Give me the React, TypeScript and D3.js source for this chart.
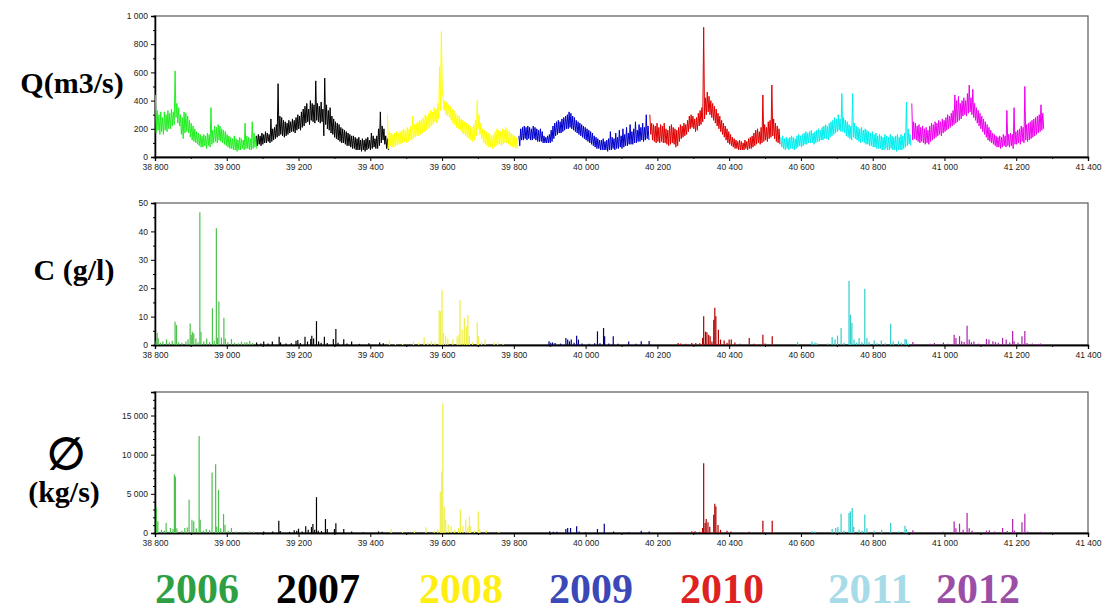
import React, { useRef, useEffect } from "react";
import * as d3 from "d3";

// years and colours
const years = ["2006", "2007", "2008", "2009", "2010", "2011", "2012"];
const qColors = ["#22ee22", "#000000", "#ffff00", "#0000cc", "#e00000", "#00eeee", "#ee00ee"];
const cColors = ["#4cc24c", "#000000", "#eeee44", "#000080", "#b00000", "#33cccc", "#aa22aa"];
const labelColors = ["#2ea043", "#000000", "#ffee11", "#3a48b8", "#dd2222", "#a8dbe8", "#9b4ea6"];

// discharge Q (m3/s): [high, low] read for each 5-day window, from each year's first day
const qStart = [38801, 39083, 39448, 39814, 40179, 40544, 40909];
const qStep = 5;
const q2006 = [[440, 170], [330, 190], [300, 160], [320, 180], [280, 160], [320, 190], [300, 180], [330, 200], [310, 200], [340, 220], [320, 230], [610, 280], [380, 240], [350, 220], [300, 160], [280, 130], [320, 170], [310, 180], [290, 170], [260, 140], [240, 120], [220, 110], [200, 100], [180, 90], [170, 80], [160, 70], [150, 70], [160, 80], [150, 60], [170, 80], [160, 70], [350, 90], [190, 100], [220, 110], [210, 100], [230, 120], [220, 110], [200, 100], [190, 90], [180, 80], [160, 70], [150, 60], [140, 60], [130, 50], [150, 50], [130, 40], [120, 50], [140, 50], [130, 60], [120, 50], [240, 60], [150, 60], [140, 50], [130, 50], [250, 60], [170, 70], [150, 60]];
const q2007 = [[150, 80], [160, 90], [150, 80], [170, 90], [160, 100], [180, 100], [170, 110], [160, 100], [270, 110], [200, 120], [210, 130], [230, 140], [520, 150], [290, 160], [280, 150], [260, 140], [250, 150], [240, 160], [260, 170], [250, 180], [270, 180], [260, 170], [280, 190], [300, 200], [290, 190], [320, 210], [340, 220], [360, 240], [380, 250], [340, 230], [400, 260], [380, 250], [370, 240], [540, 260], [380, 250], [360, 240], [390, 250], [340, 150], [560, 230], [370, 200], [330, 190], [350, 170], [290, 160], [270, 140], [250, 130], [240, 120], [230, 110], [210, 100], [200, 100], [190, 90], [180, 80], [170, 80], [160, 70], [150, 60], [150, 60], [140, 50], [130, 50], [140, 50], [120, 40], [130, 50], [120, 40], [130, 50], [140, 60], [120, 50], [170, 60], [150, 70], [130, 60], [150, 60], [200, 80], [320, 100], [220, 120], [200, 90], [150, 60], [130, 50]];
const q2008 = [[300, 60], [180, 80], [170, 70], [160, 70], [170, 80], [180, 80], [170, 90], [180, 90], [190, 100], [200, 110], [190, 100], [210, 110], [200, 120], [220, 120], [290, 130], [230, 140], [240, 150], [250, 150], [260, 160], [270, 170], [280, 180], [300, 190], [290, 200], [310, 210], [330, 220], [320, 230], [350, 250], [340, 240], [380, 270], [640, 330], [890, 480], [420, 330], [400, 300], [390, 290], [370, 280], [360, 260], [340, 240], [330, 230], [310, 210], [300, 200], [290, 190], [270, 170], [260, 160], [250, 150], [240, 140], [230, 130], [220, 120], [210, 110], [230, 120], [260, 150], [400, 200], [300, 160], [240, 130], [200, 100], [190, 90], [180, 80], [170, 70], [160, 70], [150, 60], [160, 70], [180, 80], [200, 90], [190, 90], [180, 80], [200, 90], [190, 100], [210, 100], [190, 90], [180, 80], [170, 70], [160, 70], [150, 60], [140, 60]];
const q2009 = [[150, 80], [200, 120], [210, 120], [220, 130], [210, 120], [220, 130], [210, 120], [200, 120], [220, 130], [210, 120], [200, 110], [190, 110], [200, 110], [180, 100], [150, 100], [140, 100], [150, 100], [160, 100], [190, 110], [220, 130], [240, 150], [250, 160], [260, 170], [250, 170], [270, 180], [280, 190], [290, 200], [300, 200], [320, 210], [310, 200], [290, 190], [280, 180], [260, 170], [250, 160], [240, 150], [230, 140], [220, 130], [210, 120], [200, 110], [190, 100], [180, 90], [170, 80], [150, 70], [140, 60], [130, 60], [120, 50], [120, 50], [130, 50], [110, 50], [120, 40], [130, 50], [180, 50], [140, 60], [130, 50], [170, 60], [140, 60], [190, 70], [150, 60], [200, 70], [160, 80], [210, 80], [170, 90], [230, 90], [180, 90], [200, 100], [250, 100], [190, 110], [230, 110], [210, 120], [240, 110], [210, 120], [300, 130], [220, 120]];
const q2010 = [[300, 160], [240, 120], [230, 110], [220, 100], [240, 110], [210, 100], [230, 110], [220, 100], [240, 100], [200, 90], [190, 80], [220, 90], [230, 100], [210, 90], [200, 70], [190, 80], [210, 110], [230, 130], [220, 140], [240, 150], [230, 160], [260, 180], [290, 200], [300, 210], [290, 200], [270, 180], [280, 190], [310, 220], [330, 230], [350, 250], [920, 270], [420, 300], [460, 320], [430, 300], [400, 280], [380, 260], [360, 240], [340, 220], [310, 200], [290, 180], [260, 160], [240, 140], [220, 120], [200, 100], [180, 90], [160, 80], [140, 70], [130, 60], [120, 60], [110, 50], [120, 50], [110, 50], [100, 50], [120, 60], [110, 50], [130, 60], [140, 60], [150, 70], [170, 80], [190, 90], [200, 100], [180, 90], [210, 100], [440, 110], [230, 120], [210, 110], [250, 130], [260, 140], [510, 150], [270, 130], [240, 110], [220, 100], [200, 90]];
const q2011 = [[140, 70], [150, 60], [130, 50], [140, 60], [130, 50], [140, 60], [150, 60], [140, 50], [130, 60], [150, 70], [160, 80], [150, 70], [160, 80], [170, 90], [180, 90], [170, 100], [180, 100], [190, 100], [170, 90], [180, 100], [190, 110], [200, 110], [190, 120], [210, 120], [220, 130], [230, 130], [220, 120], [240, 140], [250, 150], [260, 160], [280, 170], [270, 180], [300, 190], [270, 180], [450, 180], [280, 170], [260, 150], [250, 140], [230, 130], [220, 120], [450, 140], [240, 130], [220, 120], [210, 110], [200, 100], [210, 110], [190, 100], [200, 90], [190, 90], [180, 80], [170, 80], [180, 70], [160, 70], [170, 60], [150, 60], [160, 60], [150, 50], [140, 50], [160, 60], [150, 50], [140, 50], [160, 60], [150, 50], [140, 50], [150, 40], [160, 50], [140, 50], [160, 50], [150, 60], [170, 70], [390, 80], [200, 90], [160, 80]];
const q2012 = [[380, 120], [250, 130], [240, 120], [220, 110], [230, 100], [210, 110], [220, 100], [200, 90], [210, 100], [190, 90], [220, 110], [240, 120], [230, 130], [250, 140], [240, 150], [260, 160], [250, 150], [270, 170], [260, 180], [280, 190], [300, 200], [290, 210], [310, 220], [330, 230], [440, 240], [400, 250], [430, 260], [380, 270], [400, 290], [420, 300], [400, 290], [450, 310], [510, 320], [420, 300], [480, 280], [380, 260], [350, 240], [330, 220], [310, 200], [290, 180], [270, 160], [250, 140], [230, 120], [210, 110], [190, 100], [170, 90], [160, 80], [150, 70], [140, 70], [150, 60], [140, 70], [160, 80], [150, 70], [330, 80], [160, 70], [170, 80], [160, 60], [350, 90], [180, 90], [190, 100], [200, 90], [220, 110], [210, 100], [500, 120], [230, 110], [240, 120], [250, 130], [260, 140], [270, 150], [280, 160], [290, 170], [300, 180], [370, 190], [310, 200]];
const qSeries = [q2006, q2007, q2008, q2009, q2010, q2011, q2012];

// concentration C (g/l): [day, value] peaks
const c2006 = [[38803, 1.5], [38806, 4.3], [38809, 2.5], [38815, 0.8], [38822, 1.2], [38832, 2.0], [38840, 1.0], [38848, 1.5], [38856, 8.2], [38860, 7.0], [38866, 1.0], [38875, 0.8], [38886, 1.2], [38892, 2.0], [38898, 7.6], [38901, 3.5], [38904, 4.7], [38908, 4.1], [38914, 2.3], [38920, 1.0], [38925, 46.7], [38928, 4.7], [38936, 1.2], [38944, 2.3], [38952, 1.0], [38960, 12.9], [38965, 1.5], [38971, 41.1], [38974, 2.6], [38978, 15.3], [38985, 2.6], [38992, 9.6], [38996, 2.3], [39003, 1.0], [39013, 2.1], [39022, 0.8], [39032, 0.6], [39041, 1.2], [39050, 0.9], [39056, 1.0], [39064, 1.4], [39072, 0.7]];
const c2007 = [[39083, 0.9], [39095, 0.5], [39103, 1.2], [39115, 0.5], [39127, 1.2], [39146, 2.9], [39150, 0.9], [39165, 0.5], [39180, 0.6], [39193, 1.5], [39198, 1.8], [39205, 0.7], [39218, 2.9], [39225, 1.2], [39234, 2.1], [39237, 3.3], [39242, 2.3], [39250, 8.4], [39256, 1.2], [39263, 0.8], [39272, 2.9], [39280, 0.7], [39297, 2.1], [39304, 5.6], [39310, 0.8], [39326, 2.0], [39335, 0.5], [39348, 1.2], [39370, 0.4], [39396, 0.6], [39426, 0.9], [39436, 0.6]];
const c2008 = [[39453, 1.6], [39470, 0.5], [39490, 0.4], [39520, 1.2], [39535, 0.8], [39550, 2.7], [39560, 0.8], [39570, 1.3], [39580, 1.0], [39592, 12.2], [39596, 11.9], [39600, 19.3], [39604, 4.2], [39610, 3.1], [39616, 2.1], [39630, 1.9], [39642, 3.0], [39647, 3.6], [39650, 15.8], [39656, 5.4], [39662, 9.5], [39668, 6.6], [39672, 10.6], [39676, 3.1], [39685, 1.0], [39698, 8.0], [39702, 3.1], [39710, 1.2], [39720, 1.9], [39745, 0.9], [39755, 0.9], [39770, 0.4]];
const c2009 = [[39898, 1.3], [39903, 0.8], [39908, 0.9], [39915, 0.7], [39930, 0.5], [39945, 2.5], [39950, 1.9], [39955, 1.3], [39960, 1.9], [39968, 0.8], [39975, 3.3], [39980, 1.9], [39990, 0.5], [40010, 0.4], [40025, 0.6], [40033, 4.8], [40040, 0.6], [40050, 6.0], [40053, 3.1], [40065, 0.5], [40077, 3.1], [40090, 0.4], [40120, 1.2], [40140, 0.4], [40155, 1.3], [40177, 1.4]];
const c2010 = [[40258, 0.7], [40265, 0.5], [40280, 0.4], [40296, 0.7], [40307, 0.7], [40318, 0.6], [40326, 2.5], [40329, 10.1], [40334, 4.7], [40338, 4.5], [40343, 3.6], [40347, 3.1], [40352, 1.2], [40357, 8.9], [40360, 13.1], [40363, 10.1], [40370, 5.4], [40376, 1.9], [40386, 1.6], [40394, 0.8], [40400, 1.9], [40406, 1.9], [40416, 0.9], [40430, 0.4], [40456, 2.5], [40470, 0.4], [40494, 3.6], [40500, 0.5], [40520, 3.1]];
const c2011 = [[40591, 1.1], [40631, 1.2], [40639, 0.9], [40645, 0.6], [40675, 0.5], [40687, 2.8], [40695, 1.9], [40702, 3.3], [40712, 6.0], [40720, 0.8], [40734, 22.5], [40738, 10.7], [40742, 7.8], [40748, 1.9], [40755, 0.8], [40762, 2.5], [40770, 1.0], [40778, 19.8], [40784, 2.5], [40790, 1.0], [40804, 1.6], [40812, 0.6], [40824, 1.6], [40835, 0.6], [40850, 7.5], [40857, 1.3], [40872, 1.3], [40880, 0.8], [40890, 2.1], [40894, 1.9], [40900, 0.5]];
const c2012 = [[40912, 1.1], [40930, 0.3], [40960, 0.4], [40972, 0.7], [40997, 0.9], [41010, 0.4], [41027, 3.6], [41032, 2.5], [41042, 3.1], [41048, 1.3], [41055, 1.1], [41063, 6.8], [41069, 1.9], [41075, 1.0], [41082, 1.2], [41095, 0.5], [41117, 2.1], [41124, 1.9], [41135, 1.3], [41142, 1.0], [41150, 0.8], [41162, 2.5], [41172, 1.9], [41182, 0.9], [41190, 4.9], [41194, 1.3], [41205, 0.8], [41216, 3.1], [41224, 4.9], [41230, 0.7], [41245, 0.5], [41262, 0.4], [41268, 0.5]];
const cSeries = [c2006, c2007, c2008, c2009, c2010, c2011, c2012];

// sediment flux (kg/s): [day, value] peaks
const f2006 = [[38804, 3300], [38808, 1500], [38818, 420], [38826, 300], [38831, 1270], [38843, 640], [38850, 500], [38854, 7460], [38857, 7200], [38861, 600], [38875, 300], [38883, 640], [38890, 700], [38895, 4240], [38903, 1700], [38908, 1500], [38915, 600], [38923, 12380], [38926, 1700], [38935, 300], [38943, 500], [38952, 400], [38959, 7720], [38969, 8780], [38972, 800], [38977, 5510], [38983, 600], [38991, 2420], [38995, 1060], [39004, 300], [39013, 640], [39025, 200], [39043, 200], [39063, 200], [39075, 150]];
const f2007 = [[39103, 200], [39128, 200], [39145, 1570], [39149, 250], [39175, 150], [39188, 340], [39195, 300], [39200, 550], [39210, 200], [39220, 850], [39227, 400], [39236, 760], [39240, 1140], [39245, 400], [39250, 4580], [39255, 300], [39264, 250], [39275, 1780], [39280, 500], [39300, 510], [39304, 1230], [39326, 510], [39348, 200], [39380, 100], [39423, 210], [39433, 150]];
const f2008 = [[39458, 510], [39490, 100], [39523, 200], [39555, 720], [39578, 300], [39588, 500], [39595, 5300], [39599, 7840], [39602, 16540], [39606, 3390], [39610, 1700], [39617, 1060], [39625, 850], [39635, 400], [39646, 640], [39651, 2970], [39658, 900], [39666, 1700], [39672, 800], [39676, 2120], [39680, 900], [39690, 300], [39701, 2760], [39705, 500], [39723, 350], [39758, 200]];
const f2009 = [[39900, 210], [39910, 170], [39920, 150], [39945, 510], [39950, 640], [39958, 640], [39975, 850], [39982, 200], [40000, 100], [40033, 510], [40052, 1190], [40078, 200], [40120, 100], [40155, 300], [40177, 200]];
const f2010 = [[40258, 130], [40296, 210], [40305, 210], [40318, 150], [40326, 640], [40329, 8900], [40333, 1270], [40336, 1780], [40341, 1360], [40346, 800], [40357, 2330], [40360, 3730], [40363, 3390], [40369, 1020], [40376, 400], [40394, 300], [40405, 200], [40456, 150], [40494, 1570], [40520, 1570]];
const f2011 = [[40631, 210], [40639, 180], [40687, 510], [40697, 640], [40703, 760], [40712, 2460], [40720, 300], [40734, 2540], [40738, 2760], [40743, 3180], [40747, 800], [40762, 400], [40770, 300], [40778, 2370], [40784, 600], [40804, 300], [40825, 400], [40850, 1270], [40872, 200], [40890, 930], [40894, 500]];
const f2012 = [[40912, 340], [40960, 80], [40997, 150], [41027, 1480], [41032, 600], [41042, 1190], [41052, 400], [41063, 2540], [41069, 600], [41077, 300], [41117, 300], [41125, 350], [41140, 200], [41162, 640], [41175, 250], [41190, 1780], [41195, 300], [41216, 1360], [41224, 2460], [41232, 200], [41267, 150]];
const fSeries = [f2006, f2007, f2008, f2009, f2010, f2011, f2012];

// axis ticks
const xTicks = d3.range(38800, 41401, 200);
const xMinor = d3.range(38900, 41400, 200);
const qTicks = [0, 200, 400, 600, 800, 1000];
const qMinor = [100, 300, 500, 700, 900];
const cTicks = [0, 10, 20, 30, 40, 50];
const cMinor = [5, 15, 25, 35, 45];
const fTicks = [0, 5000, 10000, 15000];
const fMinor = d3.range(1000, 18001, 1000).filter((v) => v % 5000 !== 0);

const width = 1105;
const height = 613;
const left = 155;
const right = 1088;
const labelX = [197, 318, 461, 591, 722, 870, 978];

const fmt = d3.formatLocale({ decimal: ".", thousands: " ", grouping: [3], currency: ["", ""] }).format(",");

const App: React.FC = () => {
  const ref = useRef<SVGSVGElement>(null);

  useEffect(() => {
    if (!ref.current) return;
    const svg = d3.select(ref.current);
    svg.selectAll("*").remove();

    const x = d3.scaleLinear().domain([38800, 41400]).range([left, right]);

    const panel = (top: number, bottom: number, max: number, ticks: number[], minor: number[]) => {
      const y = d3.scaleLinear().domain([0, max]).range([bottom, top]);
      const g = svg.append("g");
      g.append("rect")
        .attr("x", left).attr("y", top)
        .attr("width", right - left).attr("height", bottom - top)
        .attr("fill", "none").attr("stroke", "#666").attr("stroke-width", 1.3);
      const styleAxis = (a: any) => {
        a.selectAll("text").attr("font-family", "Liberation Sans, Arial, sans-serif").attr("font-size", 8.5).attr("fill", "#222");
        a.select(".domain").attr("stroke", "#000").attr("stroke-width", 1.3);
        a.selectAll(".tick line").attr("stroke", "#000");
      };
      g.append("g").attr("transform", `translate(0,${bottom})`)
        .call(d3.axisBottom(x).tickValues(xTicks).tickSize(4).tickPadding(3).tickFormat((d: any) => fmt(d)))
        .call(styleAxis);
      g.append("g").attr("transform", `translate(0,${bottom})`)
        .call(d3.axisBottom(x).tickValues(xMinor).tickSize(2).tickFormat(() => ""))
        .call(styleAxis);
      g.append("g").attr("transform", `translate(${left},0)`)
        .call(d3.axisLeft(y).tickValues(ticks).tickSize(4).tickPadding(3).tickFormat((d: any) => fmt(d)))
        .call(styleAxis);
      g.append("g").attr("transform", `translate(${left},0)`)
        .call(d3.axisLeft(y).tickValues(minor).tickSize(2).tickFormat(() => ""))
        .call(styleAxis);
      return { g, y };
    };

    // Q panel: the line runs through each window's high then its low
    const p1 = panel(16, 157, 1000, qTicks, qMinor);
    const line = d3.line<[number, number]>().x((d) => x(d[0])).y((d) => p1.y(d[1]));
    qSeries.forEach((vals, i) => {
      const pts: [number, number][] = [];
      vals.forEach((hl, k) => {
        const t = qStart[i] + k * qStep;
        pts.push([t, hl[0]], [t + qStep / 2, hl[1]]);
      });
      p1.g.append("path").attr("d", line(pts) as string)
        .attr("fill", "none").attr("stroke", qColors[i]).attr("stroke-width", 1);
    });

    // spike panels
    const spikes = (p: any, series: number[][][]) => {
      series.forEach((pts, i) => {
        p.g.selectAll(null).data(pts).enter().append("line")
          .attr("x1", (d: number[]) => x(d[0])).attr("x2", (d: number[]) => x(d[0]))
          .attr("y1", p.y(0)).attr("y2", (d: number[]) => p.y(d[1]))
          .attr("stroke", cColors[i]).attr("stroke-width", 1.2);
      });
    };
    const p2 = panel(203, 345, 50, cTicks, cMinor);
    spikes(p2, cSeries);
    const p3 = panel(392, 533, 18000, fTicks, fMinor);
    spikes(p3, fSeries);

    // left labels
    const serif = "Liberation Serif, Times New Roman, serif";
    const lab = (t: string, tx: number, ty: number, size: number) =>
      svg.append("text").attr("x", tx).attr("y", ty).attr("text-anchor", "middle")
        .attr("font-family", serif).attr("font-weight", "bold").attr("font-size", size).text(t);
    lab("Q(m3/s)", 72, 93, 30);
    lab("C (g/l)", 74, 280, 30);
    lab("∅", 66, 469, 44);
    lab("(kg/s)", 64, 502, 30);

    // year legend
    years.forEach((yr, i) => {
      svg.append("text").attr("x", labelX[i]).attr("y", 603).attr("text-anchor", "middle")
        .attr("font-family", serif).attr("font-weight", "bold").attr("font-size", 42)
        .attr("textLength", 84).attr("lengthAdjust", "spacingAndGlyphs")
        .attr("fill", labelColors[i]).text(yr);
    });
  }, []);

  return (
    <svg
      ref={ref}
      width={width}
      height={height}
      style={{ position: "absolute", left: 0, top: 0, background: "#fff" }}
    />
  );
};

export default App;
